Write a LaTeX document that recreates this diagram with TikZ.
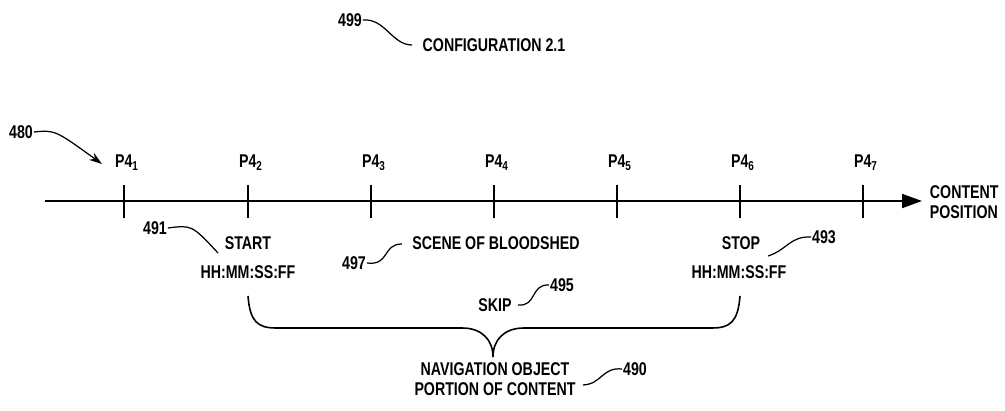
\documentclass[tikz,border=0pt]{standalone}
\usepackage{fontspec}
\setmainfont[FakeStretch=0.77]{Liberation Sans}
\usetikzlibrary{arrows.meta}

\tikzset{
  lbl/.style={font=\fontsize{10.5}{11.2}\selectfont\bfseries, inner sep=0pt, align=center},
  lead/.style={line width=0.7pt},
  brace/.style={line width=0.9pt},
}

\begin{document}
\begin{tikzpicture}[x=0.02cm, y=-0.02cm, line width=1.1pt]
  \useasboundingbox (0,0) rectangle (1005,411);

  % title
  \node[lbl] (n499) at (350,20) {499};
  \node[lbl] (cfg) at (494,45) {CONFIGURATION 2.1};
  \coordinate (l499) at (412,45);
  \draw[lead] (n499.east) .. controls (385,18) and (392,45) .. (l499);

  % content position axis
  \coordinate (a0) at (45,201);
  \coordinate (a1) at (922,201);
  \draw[-{Triangle[length=0.4cm,width=0.28cm]}] (a0) -- (a1);
  \node[lbl, anchor=west, align=left] (cpos) at (929,202) {CONTENT\\POSITION};
  \foreach \i/\x in {1/124,2/248,3/371,4/494,5/617,6/740,7/863} {
    \coordinate (t\i) at (\x,201);
    \draw (\x,185) -- (\x,218);
    \node[lbl] (p\i) at (\x+3,163) {P4\textsubscript{\i}};
  }

  \node[lbl] (n480) at (21,132) {480};
  \coordinate (l480) at (102,164);
  \draw[lead, -{Stealth[length=0.26cm,width=0.17cm]}] (n480.east)
    .. controls (55,130) .. (l480);

  % start / stop
  \node[lbl] (start) at (248,243) {START};
  \node[lbl] (starttc) at (248,272) {HH:MM:SS:FF};
  \node[lbl] (stop) at (741,243) {STOP};
  \node[lbl] (stoptc) at (739,272) {HH:MM:SS:FF};
  \node[lbl] (n491) at (155,228) {491};
  \coordinate (l491) at (218,253);
  \draw[lead] (n491.east) .. controls (192,225) .. (l491);
  \node[lbl] (n493) at (824,237) {493};
  \coordinate (l493) at (768,256);
  \draw[lead] (n493.west) .. controls (790,236) and (787,250) .. (l493);

  % scene
  \node[lbl] (scene) at (496,243) {SCENE OF BLOODSHED};
  \node[lbl] (n497) at (354,263) {497};
  \coordinate (l497) at (402,244);
  \draw[lead] (n497.east) .. controls (390,266) and (382,244) .. (l497);

  % skip
  \node[lbl] (skip) at (495,305) {SKIP};
  \node[lbl] (n495) at (562,285) {495};
  \coordinate (l495) at (518,305);
  \draw[lead] (l495) .. controls (537,307) and (530,284) .. (n495.west);

  % brace
  \coordinate (bl) at (248,296);
  \coordinate (bt) at (493,357);
  \coordinate (br) at (740,296);
  \draw[brace] (bl) .. controls (250,322) and (258,328) .. (276,328)
    -- (462,328) .. controls (482,328) and (493,340) .. (bt)
    .. controls (493,340) and (504,328) .. (524,328)
    -- (712,328) .. controls (730,328) and (738,322) .. (br);

  \node[lbl] (nav) at (495,379) {NAVIGATION OBJECT\\PORTION OF CONTENT};
  \node[lbl] (n490) at (635,369) {490};
  \coordinate (l490) at (583,385);
  \draw[lead] (n490.west) .. controls (602,367) and (602,384) .. (l490);
\end{tikzpicture}
\end{document}
